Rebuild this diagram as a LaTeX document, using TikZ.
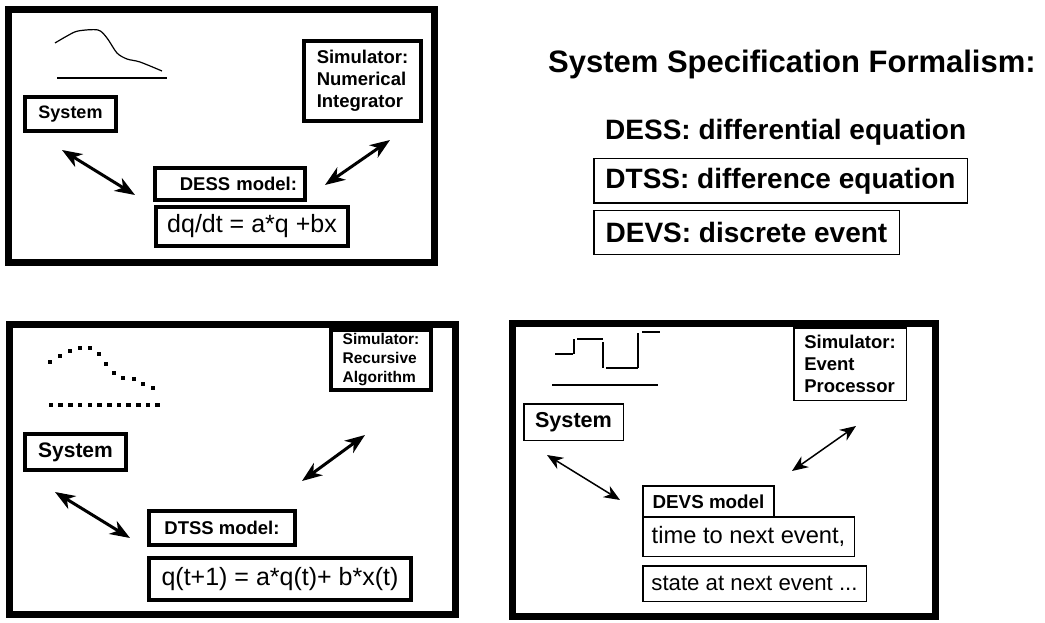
\documentclass[tikz,border=0pt]{standalone}
\usepackage{fontspec}
\setmainfont{Liberation Sans}
\usetikzlibrary{arrows.meta}

\tikzset{
  panel/.style={line width=7pt},
  heavybox/.style={draw, line width=4pt, inner sep=0pt},
  lightbox/.style={draw, line width=1.5pt, inner sep=0pt},
  link/.style={{Stealth[length=20pt,width=15pt,inset=6pt]}-{Stealth[length=20pt,width=15pt,inset=6pt]}, line width=3pt},
  thinlink/.style={{Stealth[length=16pt,width=13pt,inset=5pt]}-{Stealth[length=16pt,width=13pt,inset=5pt]}, line width=1.5pt},
  sketch/.style={line width=1.2pt}
}

\begin{document}
\begin{tikzpicture}[x=1pt,y=-1pt]
\useasboundingbox (0,0) rectangle (1045,623);

% the DESS panel
\draw[panel] (8,10) rectangle (434,262);
\draw[sketch] plot[smooth] coordinates {(55,43) (67,36) (78,31) (98,30) (107,38) (117,53) (127,59) (140,62) (162,71)};
\draw[sketch] (57,78) -- (167,78);
\node[heavybox, minimum width=91pt, minimum height=34pt, font=\fontsize{18}{22}\selectfont\bfseries] (sysA) at (70.5,114) {System};
\node[heavybox, minimum width=117pt, minimum height=80pt, align=left, font=\fontsize{18.5}{22}\selectfont\bfseries] (simA) at (362.5,81) {Simulator:\\Numerical\\Integrator};
\node[heavybox, text width=134pt, inner xsep=8pt, minimum height=32pt, align=right, font=\fontsize{18.5}{22}\selectfont\bfseries] (dessA) at (230,184) {DESS model:};
\node[heavybox, minimum width=192pt, minimum height=39pt, font=\fontsize{25}{30}\selectfont] (eqA) at (252,226.5) {dq/dt = a*q +bx};
\coordinate (a1) at (62,150);
\coordinate (a2) at (135,195);
\coordinate (a3) at (325,185);
\coordinate (a4) at (390,140);
\draw[link] (a1) -- (a2);
\draw[link] (a3) -- (a4);

% the list of formalisms
\node[anchor=base west, inner sep=0pt, font=\fontsize{31}{37}\selectfont\bfseries] (title) at (548,73) {System Specification Formalism:};
\node[anchor=base west, inner sep=0pt, font=\fontsize{28}{34}\selectfont\bfseries] (dess) at (605,140) {DESS: differential equation};
\node[lightbox, minimum width=373.5pt, minimum height=44.5pt, font=\fontsize{28}{34}\selectfont\bfseries] (dtss) at (780.5,181) {DTSS: difference equation};
\node[lightbox, minimum width=305.5pt, minimum height=43.5pt, font=\fontsize{28}{34}\selectfont\bfseries] (devs) at (746.5,232.5) {DEVS: discrete event};

% the DTSS panel
\draw[panel] (9,324) rectangle (455,614);
\foreach \x/\y in {50/362,60/356,70/351,80/348,90/348,99/354,106/364,114/373,123/378,134/379,143/384,153/388}
  \fill (\x-2.3,\y-2.3) rectangle (\x+2.3,\y+2.3);
\foreach \i in {0,...,11}
  \fill (51+\i*9.7-2.3,402.7) rectangle (51+\i*9.7+2.3,407.3);
\node[heavybox, minimum width=100pt, minimum height=60pt, align=left, font=\fontsize{15.5}{19}\selectfont\bfseries] (simB) at (381,360) {Simulator:\\Recursive\\Algorithm};
\node[heavybox, minimum width=101pt, minimum height=36pt, font=\fontsize{21}{25}\selectfont\bfseries] (sysB) at (75.5,452) {System};
\node[heavybox, minimum width=146pt, minimum height=34pt, font=\fontsize{18.5}{22}\selectfont\bfseries] (dtssB) at (222,528) {DTSS model:};
\node[heavybox, minimum width=262pt, minimum height=42pt, font=\fontsize{25}{30}\selectfont] (eqB) at (280,579) {q(t+1) = a*q(t)+ b*x(t)};
\coordinate (b1) at (55,492);
\coordinate (b2) at (130,538);
\coordinate (b3) at (302,481);
\coordinate (b4) at (365,435);
\draw[link] (b1) -- (b2);
\draw[link] (b3) -- (b4);

% the DEVS panel
\draw[panel] (512,323) rectangle (935,616);
\draw[sketch] (555,354) -- (573,354);
\draw[sketch] (574,354) -- (574,339);
\draw[sketch] (577,339) -- (603,339);
\draw[sketch] (603,342) -- (603,368);
\draw[sketch] (606,368) -- (638,368);
\draw[sketch] (638,368) -- (638,333);
\draw[sketch] (642,332) -- (660,332);
\draw[sketch] (552,385) -- (658,385);
\node[lightbox, minimum width=99.5pt, minimum height=36.5pt, font=\fontsize{21.6}{26}\selectfont\bfseries] (sysC) at (573.5,422) {System};
\node[lightbox, minimum width=112.5pt, minimum height=72.5pt, align=left, font=\fontsize{18.5}{21.7}\selectfont\bfseries] (simC) at (850,364) {Simulator:\\Event\\Processor};
\node[lightbox, minimum width=211.5pt, minimum height=39.5pt, font=\fontsize{23.7}{28}\selectfont] (timeC) at (748.5,536.5) {time to next event,};
\node[lightbox, line width=2pt, fill=white, minimum width=131pt, minimum height=31pt, font=\fontsize{18.8}{22}\selectfont\bfseries] (devsC) at (708.5,501.5) {DEVS model};
\node[lightbox, minimum width=223.5pt, minimum height=35.5pt, font=\fontsize{22.2}{27}\selectfont] (stateC) at (754.5,583.5) {state at next event ...};
\coordinate (c1) at (547,455);
\coordinate (c2) at (620,500);
\coordinate (c3) at (792,471);
\coordinate (c4) at (856,426);
\draw[thinlink] (c1) -- (c2);
\draw[thinlink] (c3) -- (c4);
\end{tikzpicture}
\end{document}
